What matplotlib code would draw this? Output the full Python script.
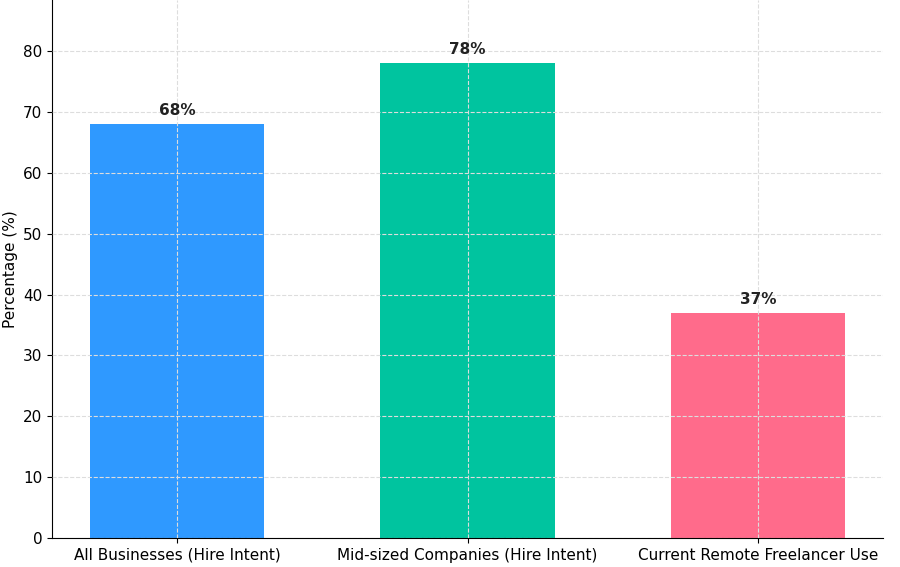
import matplotlib
matplotlib.use("Agg")
import matplotlib.pyplot as plt

categories = ["All Businesses (Hire Intent)", "Mid-sized Companies (Hire Intent)", "Current Remote Freelancer Use"]
values = [68, 78, 37]
colors = ["#2f99ff", "#00c49f", "#ff6b8b"]

fig = plt.figure(figsize=(9, 5.67), dpi=100)
ax = fig.add_axes([0.058, 0.051, 0.923, 0.949])
bars = ax.bar(range(len(categories)), values, width=0.6, color=colors, zorder=2)
for i, v in enumerate(values):
    ax.text(i, v + 1, f"{v}%", ha="center", va="bottom", fontsize=11, fontweight="bold", color="#222222")
ax.set_xticks(range(len(categories)))
ax.set_xticklabels(categories, fontsize=11)
ax.set_ylabel("Percentage (%)", fontsize=11)
ax.set_ylim(0, 88.4)
ax.set_xlim(-0.43, 2.43)
ax.set_yticks(range(0, 90, 10))
ax.tick_params(labelsize=11)
ax.grid(True, linestyle="--", color="#dddddd", linewidth=0.8, zorder=0)
ax.set_axisbelow(False)
for b in bars:
    b.set_zorder(1)
ax.spines["top"].set_visible(False)
ax.spines["right"].set_visible(False)
fig.savefig("out.png", dpi=100)
